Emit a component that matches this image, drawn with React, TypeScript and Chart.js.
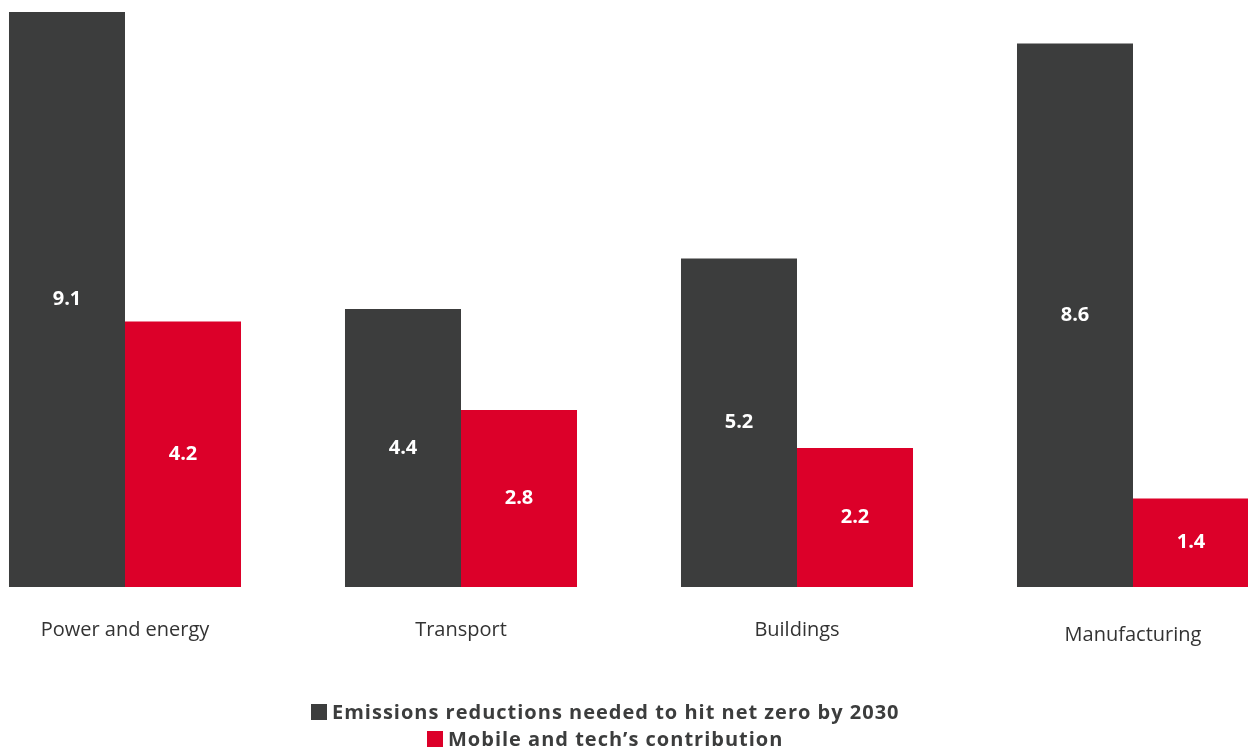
import React, { useEffect, useRef } from "react";
import { Chart, registerables } from "chart.js";

Chart.register(...registerables);

const categories = ["Power and energy", "Transport", "Buildings", "Manufacturing"];
const neededValues = [9.1, 4.4, 5.2, 8.6];
const contributionValues = [4.2, 2.8, 2.2, 1.4];
const seriesNames = ["Emissions reductions needed to hit net zero by 2030", "Mobile and tech\u2019s contribution"];

const DARK = "#3c3d3d";
const RED = "#dc0029";
const FONT = "'Open Sans', 'Noto Sans', sans-serif";
const LEGEND_CENTER_X = 605;

const valueLabels = {
  id: "valueLabels",
  afterDatasetsDraw(chart: any) {
    const ctx = chart.ctx;
    ctx.save();
    ctx.font = `bold 20px ${FONT}`;
    ctx.fillStyle = "#ffffff";
    ctx.textAlign = "center";
    ctx.textBaseline = "middle";
    chart.data.datasets.forEach((ds: any, i: number) => {
      const meta = chart.getDatasetMeta(i);
      meta.data.forEach((bar: any, j: number) => {
        const { x, y, base } = bar.getProps(["x", "y", "base"], true);
        ctx.fillText(Number(ds.data[j]).toFixed(1), x, (y + base) / 2);
      });
    });
    ctx.restore();
  },
};

const customLegend = {
  id: "customLegend",
  afterDraw(chart: any) {
    const ctx = chart.ctx;
    ctx.save();
    ctx.font = `bold 20px ${FONT}`;
    try {
      (ctx as any).letterSpacing = "1px";
    } catch (e) {
      /* ignore */
    }
    ctx.textBaseline = "middle";
    ctx.textAlign = "left";
    const box = 16;
    const gap = 5;
    chart.data.datasets.forEach((ds: any, i: number) => {
      const text = ds.label;
      const tw = ctx.measureText(text).width;
      const total = box + gap + tw;
      const x0 = Math.round(LEGEND_CENTER_X - total / 2);
      const cy = chart.height - 37 + i * 27;
      ctx.fillStyle = ds.backgroundColor;
      ctx.fillRect(x0, cy - box / 2, box, box);
      ctx.fillStyle = DARK;
      ctx.fillText(text, x0 + box + gap, cy + 1);
    });
    ctx.restore();
  },
};

export default function App() {
  const ref = useRef<HTMLCanvasElement | null>(null);
  useEffect(() => {
    if (!ref.current) return;
    const chart = new Chart(ref.current, {
      type: "bar",
      data: {
        labels: categories,
        datasets: [
          {
            label: seriesNames[0],
            data: neededValues,
            backgroundColor: DARK,
            borderWidth: 0,
            categoryPercentage: 0.6905,
            barPercentage: 1,
            clip: false,
          },
          {
            label: seriesNames[1],
            data: contributionValues,
            backgroundColor: RED,
            borderWidth: 0,
            categoryPercentage: 0.6905,
            barPercentage: 1,
            clip: false,
          },
        ],
      },
      options: {
        responsive: false,
        animation: false,
        layout: { padding: { top: 12, left: 125, right: 115, bottom: 0 } },
        scales: {
          x: {
            offset: false,
            grid: { display: false, drawTicks: false },
            border: { display: false },
            ticks: {
              padding: 0,
              color: "#333333",
              maxRotation: 0,
              autoSkip: false,
              font: (ctx: any) => ({
                family: FONT,
                size: 20,
                lineHeight: ctx.index === 3 ? "96px" : "86px",
              }),
            },
            afterFit: (s: any) => {
              s.height = 162;
            },
          },
          y: {
            display: false,
            min: 0,
            max: 9.1,
          },
        },
        plugins: {
          tooltip: { enabled: false },
          legend: { display: false },
        },
      },
      plugins: [valueLabels, customLegend],
    } as any);
    return () => chart.destroy();
  }, []);

  return (
    <div style={{ position: "fixed", left: 0, top: 0, width: 1248, height: 749, background: "#ffffff" }}>
      <canvas ref={ref} width={1248} height={749} style={{ display: "block" }} />
    </div>
  );
}
